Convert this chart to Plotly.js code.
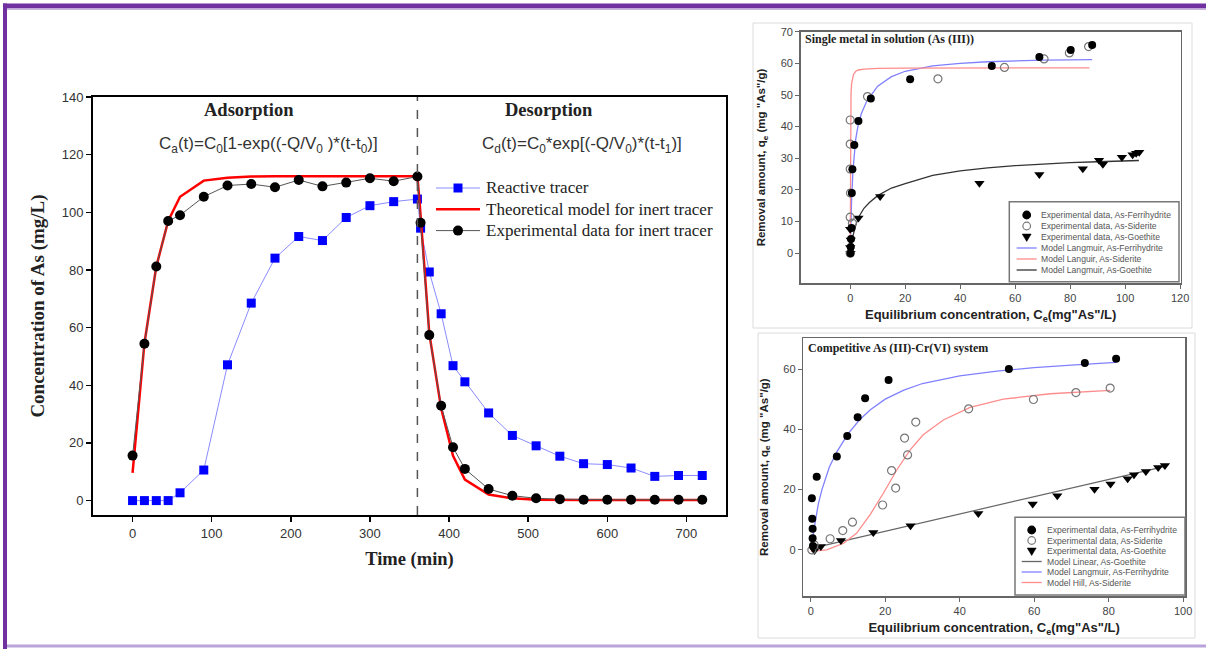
<!DOCTYPE html>
<html><head><meta charset="utf-8">
<script src="https://cdn.plot.ly/plotly-3.0.1.min.js"></script>
<style>html,body{margin:0;padding:0;background:#fff;}#chart{width:1206px;height:649px;}</style>
</head><body><div id="chart"></div>
<script>
// ---------- Main chart (tracer test) ----------
const adsTime = [0,15,30,45,60,90,120,150,180,210,240,270,300,330,360];
const reactiveAds = [0,0,0,0,2.7,10.6,47.1,68.5,84.1,91.6,90.2,98.2,102.3,103.7,104.6];
const inertAds = [15.6,54.4,81.2,97,99,105.4,109.3,109.8,108.7,111.2,109,110.3,111.8,110.8,112.4];
const desTime = [364,375,390,405,420,450,480,510,540,570,600,630,660,690,720];
const reactiveDes = [94.5,79.3,64.8,46.8,41.2,30.4,22.6,19,15.4,12.8,12.5,11.3,8.4,8.7,8.7];
const inertDes = [96.4,57.4,32.9,18.5,11,4,1.7,0.8,0.5,0.3,0.3,0.3,0.3,0.3,0.3];
const modelTime = [0,15,30,45,60,90,120,150,180,240,300,360,363,375,390,405,420,450,480,510,570,630,720];
const modelConc = [9.6,54.6,81.2,97,105.4,111,112,112.4,112.5,112.5,112.5,112.5,102.6,58,32,15.5,7.3,2.1,0.8,0.3,0.2,0.2,0.2];
const phaseSwitch = 360;
const mainSeriesNames = ['Reactive tracer','Theoretical model for inert tracer','Experimental data for inert tracer'];
const mainXTicks = [0,100,200,300,400,500,600,700];
const mainYTicks = [0,20,40,60,80,100,120,140];

// ---------- Top-right: single metal As(III) ----------
const s1FerriC = [0.1,0.2,0.3,0.5,0.6,0.8,1.5,3,7.5,21.8,51.5,68.8,80.2,88];
const s1FerriQ = [0,2,4.5,8,19,26.5,34.2,41.8,48.9,55,59.2,62,64.2,65.8];
const s1SidC = [0,0,0.8,0.1,0,0,0,6.3,31.9,56.1,70.5,79.7,86.7];
const s1SidQ = [0,11.4,9.5,19,26.6,34.5,42.1,49.5,55.1,58.7,61.4,63.3,65.3];
const s1GoeC = [0.1,0,0.2,0,3,10.9,47,68.8,84.6,90.5,91.9,98.8,102.7,104,105.1];
const s1GoeQ = [0,1.8,4.2,7.6,11.1,17.9,22.1,24.9,26.7,29.4,28.1,30.3,31.1,31.6,31.9];
const s1FerriModelC = [0,0.25,0.5,1,1.5,2,3,4,6,8,10,15,20,30,40,50,60,70,80,88];
const s1FerriModelQ = [0,9.8,16.5,26,32,36,41,44,48,50.5,52.8,55.8,57.5,59.2,60,60.5,60.8,61,61.1,61.2];
const s1SidModelC = [0,0.03,0.06,0.1,0.15,0.2,0.3,0.5,0.8,1.2,2,3,5,10,20,40,60,87];
const s1SidModelQ = [0,22,32,39,43.5,47,50.5,53.5,55.5,56.5,57.5,57.9,58.2,58.4,58.5,58.6,58.6,58.6];
const s1GoeModelC = [0,0.5,1,2,3,5,7,10,15,20,30,40,50,60,70,80,90,100,105];
const s1GoeModelQ = [0,3,5.5,8.8,11.3,14.2,16,18.2,20.6,22,24.6,26,27,27.7,28.2,28.6,28.9,29.2,29.3];
const s1Legend = ['Experimental data, As-Ferrihydrite','Experimental data, As-Siderite','Experimental data, As-Goethite','Model Langmuir, As-Ferrihydrite','Model Languir, As-Siderite','Model Langmuir, As-Goethite'];
const s1XTicks = [0,20,40,60,80,100,120];
const s1YTicks = [0,10,20,30,40,50,60,70];

// ---------- Bottom-right: competitive As(III)-Cr(VI) ----------
const s2FerriC = [0.3,0.4,0.5,0.5,0.6,1.6,7,9.8,12.6,14.6,20.9,53.2,73.6,82];
const s2FerriQ = [17.1,10.3,7,3.9,1.3,24.3,31,37.8,44,50.3,56.4,60,62,63.4];
const s2SidC = [0.3,0.9,5.2,8.6,11.2,19.3,21.7,22.8,25.2,26,28.2,42.4,59.8,71.2,80.4];
const s2SidQ = [0,1.7,3.7,6.4,9.2,14.9,26.3,20.5,37.1,31.5,42.4,46.8,49.9,52.2,53.7];
const s2GoeC = [1,2.7,8.1,16.8,26.8,45,59.6,66.2,76.2,80.5,85.1,86.8,90,93.3,95.1];
const s2GoeQ = [-0.2,1.1,3.1,5.8,8,12.1,15.2,18,20.1,21.9,23.6,24.9,26,27.3,28];
const s2GoeModelC = [0.5,95.5];
const s2GoeModelQ = [0.6,27.8];
const s2FerriModelC = [0.2,1,2,3,4,5,7,10,13,16,20,25,30,40,50,60,70,82];
const s2FerriModelQ = [2,8.5,15,20,24,27.5,32.5,38.5,43,46.5,50,53,55.2,57.7,59.3,60.5,61.3,62.2];
const s2SidModelC = [0,4.3,8.8,12.3,15.9,19.5,23.1,26.7,30.2,35.6,42.8,51.7,64.3,80.4];
const s2SidModelQ = [-0.5,0,2.2,5.5,11.6,18.8,26.5,33.2,38.2,43.1,47.3,50,51.8,52.9];
const s2Legend = ['Experimental data, As-Ferrihydrite','Experimental data, As-Siderite','Experimental data, As-Goethite','Model Linear, As-Goethite','Model Langmuir, As-Ferrihydrite','Model Hill, As-Siderite'];
const s2XTicks = [0,20,40,60,80,100];
const s2YTicks = [0,20,40,60];

// ---------- helpers ----------
const W = 1206, H = 649;
const px = x => x / W;
const py = y => 1 - y / H;
const SANS = 'Liberation Sans, Arial, sans-serif';
const SERIF = 'Liberation Serif, Times New Roman, serif';

const traces = [];
// main chart
traces.push({x: adsTime.concat(desTime), y: reactiveAds.concat(reactiveDes), name: mainSeriesNames[0],
  type:'scatter', mode:'lines+markers', xaxis:'x', yaxis:'y', showlegend:false,
  line:{color:'#8b8bff', width:1}, marker:{symbol:'square', size:9, color:'#0000ff'}});
traces.push({x: modelTime, y: modelConc, name: mainSeriesNames[1], type:'scatter', mode:'lines',
  xaxis:'x', yaxis:'y', showlegend:false, line:{color:'#ff0000', width:2.5}});
traces.push({x: adsTime.concat(desTime), y: inertAds.concat(inertDes), name: mainSeriesNames[2],
  type:'scatter', mode:'lines+markers', xaxis:'x', yaxis:'y', showlegend:false,
  line:{color:'#555555', width:1}, marker:{symbol:'circle', size:10, color:'#000000'}});

// small chart styling
const blueL = '#8080ff', redL = '#ff8c8c', darkL = '#333333';
function addSmall(xa, ya, sets) {
  sets.forEach(s => traces.push(Object.assign({type:'scatter', xaxis:xa, yaxis:ya, showlegend:false}, s)));
}
addSmall('x2','y2',[
  {x:s1FerriModelC, y:s1FerriModelQ, mode:'lines', line:{color:blueL, width:1.3}},
  {x:s1SidModelC, y:s1SidModelQ, mode:'lines', line:{color:redL, width:1.3}},
  {x:s1GoeModelC, y:s1GoeModelQ, mode:'lines', line:{color:darkL, width:1.3}},
  {x:s1GoeC, y:s1GoeQ, mode:'markers', marker:{symbol:'triangle-down', size:9, color:'#000'}},
  {x:s1SidC, y:s1SidQ, mode:'markers', marker:{symbol:'circle-open', size:8, color:'#777', line:{width:1.2}}},
  {x:s1FerriC, y:s1FerriQ, mode:'markers', marker:{symbol:'circle', size:8, color:'#000'}}
]);
addSmall('x3','y3',[
  {x:s2GoeModelC, y:s2GoeModelQ, mode:'lines', line:{color:'#666', width:1.2}},
  {x:s2FerriModelC, y:s2FerriModelQ, mode:'lines', line:{color:blueL, width:1.3}},
  {x:s2SidModelC, y:s2SidModelQ, mode:'lines', line:{color:redL, width:1.3}},
  {x:s2GoeC, y:s2GoeQ, mode:'markers', marker:{symbol:'triangle-down', size:9, color:'#000'}},
  {x:s2SidC, y:s2SidQ, mode:'markers', marker:{symbol:'circle-open', size:8, color:'#777', line:{width:1.2}}},
  {x:s2FerriC, y:s2FerriQ, mode:'markers', marker:{symbol:'circle', size:8, color:'#000'}}
]);

// axes
const mainAxis = {showline:true, linecolor:'#000', linewidth:2, mirror:true, ticks:'outside', ticklen:5,
  tickwidth:1.5, tickcolor:'#000', showgrid:false, zeroline:false,
  tickfont:{family:SANS, size:13, color:'#333'}};
const smallAxis = {showline:true, linecolor:'#666', linewidth:1.5, mirror:true, ticks:'outside', ticklen:4,
  tickwidth:1, tickcolor:'#666', showgrid:false, zeroline:false,
  tickfont:{family:SANS, size:11, color:'#444'}};

const layout = {
  width:W, height:H, margin:{l:0,r:0,t:0,b:0}, paper_bgcolor:'#fff', plot_bgcolor:'#fff',
  showlegend:false,
  xaxis: Object.assign({}, mainAxis, {domain:[px(93), px(726)], range:[-50,750], tickvals:mainXTicks,
    title:{text:'<b>Time (min)</b>', font:{family:SERIF, size:18.5, color:'#222'}, standoff:12}, anchor:'y'}),
  yaxis: Object.assign({}, mainAxis, {domain:[py(515), py(97)], range:[-5,140], tickvals:mainYTicks,
    title:{text:'<b>Concentration of As (mg/L)</b>', font:{family:SERIF, size:19, color:'#222'}, standoff:12}, anchor:'x'}),
  xaxis2: Object.assign({}, smallAxis, {domain:[px(800.7), px(1180.7)], range:[-18,120.2], tickvals:s1XTicks, anchor:'y2',
    title:{text:'<b>Equilibrium concentration, C<sub>e</sub>(mg"As"/L)</b>', font:{family:SANS, size:13, color:'#222'}, standoff:7}}),
  yaxis2: Object.assign({}, smallAxis, {domain:[py(283.3), py(31.7)], range:[-9.5,70], tickvals:s1YTicks, anchor:'x2',
    title:{text:'<b>Removal amount, q<sub>e</sub> (mg "As"/g)</b>', font:{family:SANS, size:11.5, color:'#222'}, standoff:12}}),
  xaxis3: Object.assign({}, smallAxis, {domain:[px(803.3), px(1185)], range:[-2,100.5], tickvals:s2XTicks, anchor:'y3',
    title:{text:'<b>Equilibrium concentration, C<sub>e</sub>(mg"As"/L)</b>', font:{family:SANS, size:13, color:'#222'}, standoff:7}}),
  yaxis3: Object.assign({}, smallAxis, {domain:[py(596), py(338.3)], range:[-15.3,70.2], tickvals:s2YTicks, anchor:'x3',
    title:{text:'<b>Removal amount, q<sub>e</sub> (mg "As"/g)</b>', font:{family:SANS, size:11.5, color:'#222'}, standoff:12}}),
  shapes:[], annotations:[]
};

const sh = layout.shapes, an = layout.annotations;
function label(x, y, text, font, xanchor) {
  an.push({xref:'paper', yref:'paper', x:px(x), y:py(y), xanchor:xanchor||'center', yanchor:'middle',
    text:text, showarrow:false, font:font});
}
// page frame
sh.push({type:'rect', xref:'paper', yref:'paper', x0:px(3), x1:1, y0:py(8.5), y1:py(3.5), fillcolor:'#7030a0', line:{width:0}, layer:'below'});
sh.push({type:'rect', xref:'paper', yref:'paper', x0:px(3), x1:1, y0:py(10), y1:py(8.5), fillcolor:'#c9b3e0', line:{width:0}, layer:'below'});
sh.push({type:'rect', xref:'paper', yref:'paper', x0:px(3), x1:px(7), y0:0, y1:py(3.5), fillcolor:'#7030a0', line:{width:0}, layer:'below'});
sh.push({type:'rect', xref:'paper', yref:'paper', x0:px(7), x1:1, y0:py(647.5), y1:py(644.5), fillcolor:'#b9a3d9', line:{width:0}, layer:'below'});
// panel boxes
sh.push({type:'rect', xref:'paper', yref:'paper', x0:px(753), x1:px(1192), y0:py(328), y1:py(23), line:{color:'#dcdcdc', width:1}, layer:'below'});
sh.push({type:'rect', xref:'paper', yref:'paper', x0:px(758), x1:px(1195), y0:py(638), y1:py(333), line:{color:'#dcdcdc', width:1}, layer:'below'});
// phase switch dashed line
sh.push({type:'line', xref:'x', yref:'y domain', x0:phaseSwitch, x1:phaseSwitch, y0:0, y1:1, line:{color:'#555', width:1.5, dash:'dash'}});

// main annotations
const headFont = {family:SERIF, size:18.5, color:'#222'};
const eqFont = {family:SANS, size:17, color:'#333'};
label(248.5, 110, '<b>Adsorption</b>', headFont);
label(548.5, 110, '<b>Desorption</b>', headFont);
label(268.5, 145, 'C<sub>a</sub>(t)=C<sub>0</sub>[1-exp((-Q/V<sub>0</sub> )*(t-t<sub>0</sub>)]', eqFont);
label(581.5, 145, 'C<sub>d</sub>(t)=C<sub>0</sub>*exp[(-Q/V<sub>0</sub>)*(t-t<sub>1</sub>)]', eqFont);

// main legend (drawn compactly to match the original spacing)
const mainKeys = [{lc:'#8b8bff', lw:1, m:'sq', mc:'#0000ff'}, {lc:'#ff0000', lw:2.5, m:null}, {lc:'#555', lw:1, m:'ci', mc:'#000'}];
mainSeriesNames.forEach((nm, i) => {
  const yy = 188 + i*21.3;
  sh.push({type:'line', xref:'paper', yref:'paper', x0:px(436), x1:px(480), y0:py(yy), y1:py(yy), line:{color:mainKeys[i].lc, width:mainKeys[i].lw}, layer:'above'});
  if (mainKeys[i].m === 'sq') sh.push({type:'rect', xref:'paper', yref:'paper', x0:px(453.5), x1:px(462.5), y0:py(yy+4.5), y1:py(yy-4.5), fillcolor:mainKeys[i].mc, line:{width:0}, layer:'above'});
  if (mainKeys[i].m === 'ci') sh.push({type:'circle', xref:'paper', yref:'paper', x0:px(453), x1:px(463), y0:py(yy+5), y1:py(yy-5), fillcolor:mainKeys[i].mc, line:{width:0}, layer:'above'});
  label(484, yy, nm, {family:SERIF, size:17, color:'#222'}, 'left');
});

// small chart titles
label(803, 39, '<b>Single metal in solution (As (III))</b>', {family:SERIF, size:12, color:'#222'}, 'left');
label(806, 348, '<b>Competitive As (III)-Cr(VI) system</b>', {family:SERIF, size:12, color:'#222'}, 'left');

// compact legends for the small panels
const keyStyles1 = [{k:'dot'},{k:'open'},{k:'tri'},{k:'line', c:blueL},{k:'line', c:redL},{k:'line', c:darkL}];
const keyStyles2 = [{k:'dot'},{k:'open'},{k:'tri'},{k:'line', c:'#666'},{k:'line', c:blueL},{k:'line', c:redL}];
function smallLegend(box, labels, styles, y0, step, mx, lx0, lx1, tx) {
  sh.push({type:'rect', xref:'paper', yref:'paper', x0:px(box[0]), x1:px(box[1]), y0:py(box[3]), y1:py(box[2]),
    fillcolor:'#fff', line:{color:'#777', width:1.5}, layer:'above'});
  labels.forEach((lab, i) => {
    const yy = y0 + i*step, st = styles[i];
    if (st.k === 'dot' || st.k === 'open') {
      sh.push({type:'circle', xref:'paper', yref:'paper', x0:px(mx-3.8), x1:px(mx+3.8), y0:py(yy+3.8), y1:py(yy-3.8),
        fillcolor: st.k==='dot' ? '#000' : '#fff', line:{color: st.k==='dot' ? '#000' : '#777', width:1.2}, layer:'above'});
    } else if (st.k === 'tri') {
      sh.push({type:'path', xref:'paper', yref:'paper', layer:'above', fillcolor:'#000', line:{color:'#000', width:0.5},
        path:`M${px(mx-4.5)},${py(yy-3)} L${px(mx+4.5)},${py(yy-3)} L${px(mx)},${py(yy+4.5)} Z`});
    } else {
      sh.push({type:'line', xref:'paper', yref:'paper', x0:px(lx0), x1:px(lx1), y0:py(yy), y1:py(yy), line:{color:st.c, width:1.3}, layer:'above'});
    }
    label(tx, yy, lab, {family:SANS, size:8.6, color:'#555'}, 'left');
  });
}
smallLegend([1009.3,1179,201.7,281.7], s1Legend, keyStyles1, 215, 11, 1026.7, 1016.7, 1036.7, 1039);
smallLegend([1015,1185,517.3,595], s2Legend, keyStyles2, 530, 10.5, 1031.7, 1021.7, 1041.7, 1045);

Plotly.newPlot('chart', traces, layout, {displayModeBar:false, staticPlot:true});
</script></body></html>
